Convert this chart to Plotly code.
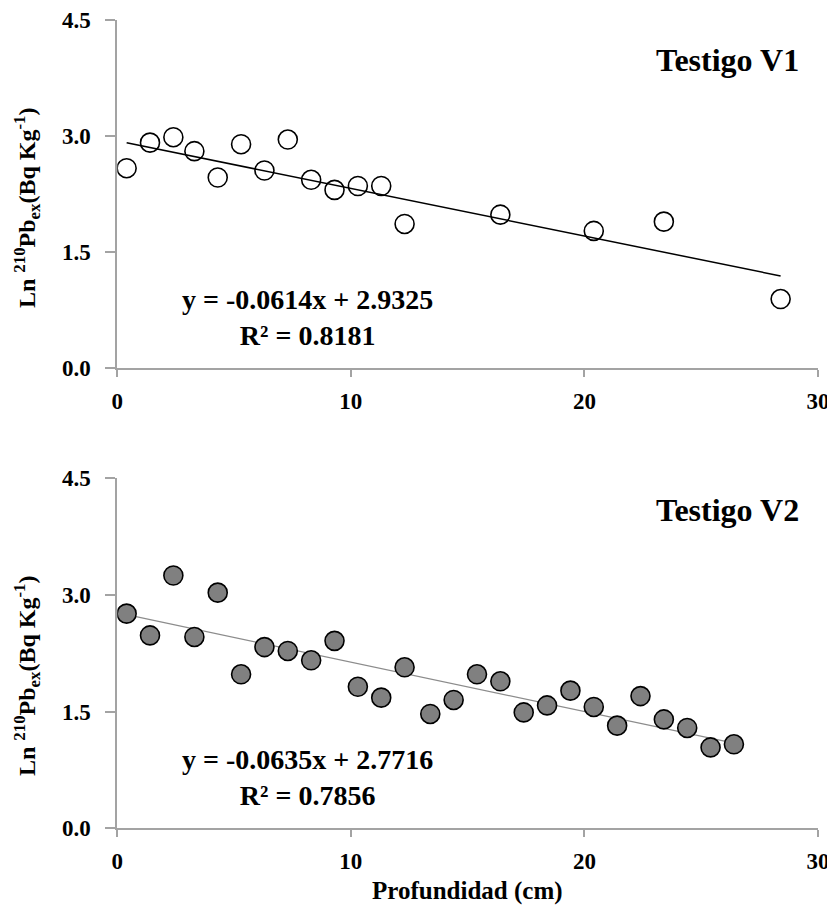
import plotly.graph_objects as go

# ---------------- data ----------------
depth_v1 = [0.4, 1.4, 2.4, 3.3, 4.3, 5.3, 6.3, 7.3, 8.3, 9.3, 10.3, 11.3, 12.3, 16.4, 20.4, 23.4, 28.4]
ln_v1 = [2.58, 2.91, 2.98, 2.80, 2.46, 2.89, 2.55, 2.95, 2.43, 2.30, 2.35, 2.35, 1.86, 1.98, 1.77, 1.89, 0.89]

depth_v2 = [0.4, 1.4, 2.4, 3.3, 4.3, 5.3, 6.3, 7.3, 8.3, 9.3, 10.3, 11.3, 12.3, 13.4, 14.4, 15.4, 16.4,
            17.4, 18.4, 19.4, 20.4, 21.4, 22.4, 23.4, 24.4, 25.4, 26.4]
ln_v2 = [2.76, 2.48, 3.25, 2.46, 3.03, 1.98, 2.33, 2.28, 2.16, 2.41, 1.82, 1.68, 2.07, 1.47, 1.65, 1.98, 1.89,
         1.49, 1.58, 1.77, 1.56, 1.32, 1.70, 1.40, 1.29, 1.04, 1.08]

fit_v1 = (-0.0614, 2.9325, 0.8181)
fit_v2 = (-0.0635, 2.7716, 0.7856)

x_ticks = [0, 10, 20, 30]
y_ticks = [0, 1.5, 3.0, 4.5]
y_ticktext = ["0.0", "1.5", "3.0", "4.5"]

titles = ["Testigo V1", "Testigo V2"]
x_title = "Profundidad (cm)"
y_title = "Ln <sup>210</sup>Pb<sub>ex</sub>(Bq Kg<sup>-1</sup>)"

# ---------------- figure ----------------
# page body adds an 8px offset; size the figure so it ends at the window edge
OFF = 8
W, H = 835 - OFF, 907 - OFF
FONT = "Liberation Serif, Times New Roman, serif"
AXCOL = "#a3a3a3"

def px(x):
    return (x - OFF) / W

def py(y):
    return 1 - (y - OFF) / H

fig = go.Figure()

def fit_line(xs, slope, icpt):
    x0, x1 = min(xs), max(xs)
    return [x0, x1], [slope * x0 + icpt, slope * x1 + icpt]

# top panel
lx, ly = fit_line(depth_v1, fit_v1[0], fit_v1[1])
fig.add_trace(go.Scatter(x=lx, y=ly, mode="lines", line=dict(color="black", width=1.5),
                         xaxis="x", yaxis="y", showlegend=False, hoverinfo="skip"))
fig.add_trace(go.Scatter(x=depth_v1, y=ln_v1, mode="markers",
                         marker=dict(symbol="circle", size=19, color="rgba(0,0,0,0)",
                                     line=dict(color="black", width=1.6)),
                         xaxis="x", yaxis="y", showlegend=False))

# bottom panel
lx, ly = fit_line(depth_v2, fit_v2[0], fit_v2[1])
fig.add_trace(go.Scatter(x=lx, y=ly, mode="lines", line=dict(color="#8c8c8c", width=1.2),
                         xaxis="x2", yaxis="y2", showlegend=False, hoverinfo="skip"))
fig.add_trace(go.Scatter(x=depth_v2, y=ln_v2, mode="markers",
                         marker=dict(symbol="circle", size=19, color="#808080",
                                     line=dict(color="black", width=1.6)),
                         xaxis="x2", yaxis="y2", showlegend=False))

xdom = [px(117.3), px(818.0)]
top_dom = [py(368.0), py(19.5)]
bot_dom = [py(828.3), py(478.3)]

tickfont = dict(family=FONT, size=23, color="black", weight="bold")

def xaxis(anchor):
    return dict(domain=xdom, range=[0, 30], tickvals=x_ticks, showline=True, linecolor=AXCOL,
                linewidth=2, ticks="outside", ticklen=7, tickwidth=2, tickcolor=AXCOL,
                showgrid=False, zeroline=False, tickfont=tickfont, anchor=anchor,
                ticklabelstandoff=4, automargin=False, ticklabeloverflow="allow")

def yaxis(dom, anchor):
    return dict(domain=dom, range=[0, 4.5], tickvals=y_ticks, ticktext=y_ticktext, showline=True,
                linecolor=AXCOL, linewidth=2, ticks="outside", ticklen=10, tickwidth=2,
                tickcolor=AXCOL, showgrid=False, zeroline=False, tickfont=tickfont, anchor=anchor,
                ticklabelstandoff=10, automargin=False, ticklabeloverflow="allow")

fig.update_layout(
    width=W, height=H, margin=dict(l=0, r=0, t=0, b=0, autoexpand=False),
    paper_bgcolor="white", plot_bgcolor="white",
    font=dict(family=FONT, color="black"),
    xaxis=xaxis("y"), yaxis=yaxis(top_dom, "x"),
    xaxis2=xaxis("y2"), yaxis2=yaxis(bot_dom, "x2"),
)

annots = []
# panel titles
for t, yc in zip(titles, [60, 510]):
    annots.append(dict(text=t, xref="paper", yref="paper", x=px(727), y=py(yc),
                       xanchor="center", yanchor="middle", showarrow=False,
                       font=dict(family=FONT, size=32, weight="bold", color="black")))
# equations
for fit, yc in zip([fit_v1, fit_v2], [317, 777]):
    txt = f"y = {fit[0]:.4f}x + {fit[1]:.4f}<br>R² = {fit[2]:.4f}"
    annots.append(dict(text=txt, xref="paper", yref="paper", x=px(307), y=py(yc),
                       xanchor="center", yanchor="middle", align="center", showarrow=False,
                       font=dict(family=FONT, size=28, weight="bold", color="black")))
# y titles
for yc in [208, 676]:
    annots.append(dict(text=y_title, xref="paper", yref="paper", x=px(27), y=py(yc),
                       xanchor="center", yanchor="middle", textangle=-90, showarrow=False,
                       font=dict(family=FONT, size=24, weight="bold", color="black")))
# x title
annots.append(dict(text=x_title, xref="paper", yref="paper", x=px(467), y=py(891),
                   xanchor="center", yanchor="middle", showarrow=False,
                   font=dict(family=FONT, size=25, weight="bold", color="black")))
fig.update_layout(annotations=annots)

fig.write_html("out.html")
